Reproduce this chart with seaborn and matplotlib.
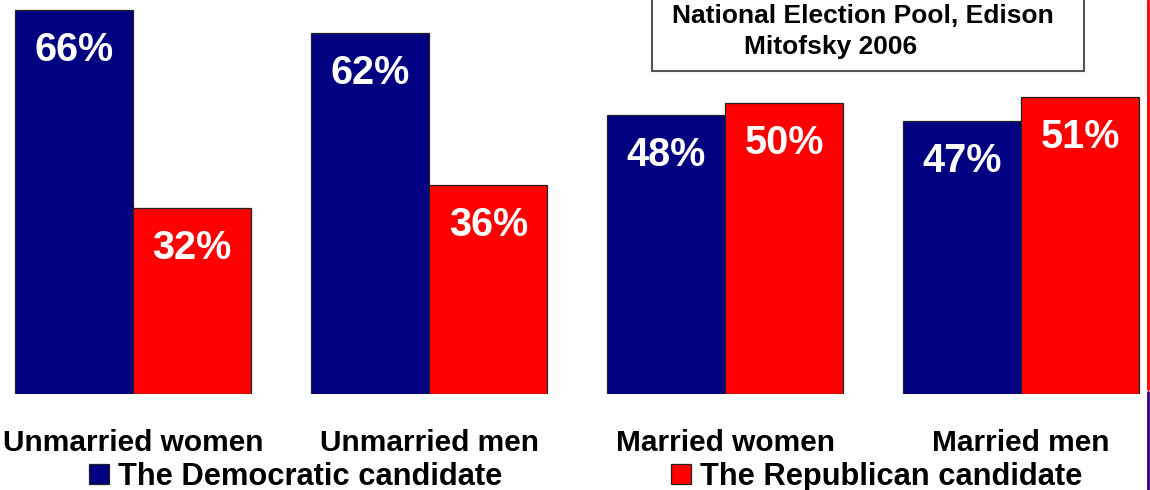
import pandas as pd
import matplotlib
matplotlib.use("Agg")
import matplotlib.pyplot as plt
import seaborn as sns
from matplotlib.lines import Line2D
from matplotlib.patches import Rectangle

# chart values
groups = ["Unmarried women", "Unmarried men", "Married women", "Married men"]
dem_share = [66, 62, 48, 47]
rep_share = [32, 36, 50, 51]
series = ["The Democratic candidate", "The Republican candidate"]
source_lines = ["National Election Pool, Edison", "Mitofsky 2006"]

df = pd.DataFrame({
    "group": groups * 2,
    "share": dem_share + rep_share,
    "party": [series[0]] * len(groups) + [series[1]] * len(groups),
})

sns.set_style("white")
plt.rcParams["font.family"] = ["Liberation Sans", "DejaVu Sans"]
plt.rcParams["font.weight"] = "bold"
plt.rcParams["text.color"] = "black"
plt.rcParams["xtick.color"] = "black"
plt.rcParams["xtick.labelcolor"] = "black"

W, H = 1150, 490
fig = plt.figure(figsize=(W / 100, H / 100), dpi=100)
base = 394  # pixel row of the bar baseline, from the top
ax = fig.add_axes([0, (H - base) / H, 1, base / H])

sns.barplot(data=df, x="group", y="share", hue="party", order=groups,
            hue_order=series, palette=["#000080", "#FF0000"],
            edgecolor="#222222", linewidth=0.9, saturation=1, width=0.8, ax=ax)

# value labels inside the top of each bar
for cont in ax.containers:
    for bar in cont:
        v = bar.get_height()
        ax.annotate(f"{v:.0f}%", (bar.get_x() + bar.get_width() / 2, v),
                    xytext=(0, -40), textcoords="offset pixels",
                    ha="center", va="center", color="white",
                    fontsize=28.5, fontweight="bold")

px_per_cat = 296
ax.set_xlim(-133 / px_per_cat, (W - 133) / px_per_cat)
ax.set_ylim(0, base / 5.818)
ax.set_xlabel("")
ax.set_ylabel("")
ax.set_yticks([])
ax.tick_params(axis="x", length=0, pad=25, labelsize=21.5, labelcolor="black")
for t in ax.get_xticklabels():
    t.set_fontweight("bold")
sns.despine(ax=ax, left=True, bottom=True)
ax.patch.set_alpha(0)

# legend along the bottom
h, l = ax.get_legend_handles_labels()
ax.get_legend().remove()
leg = fig.legend(h, l, loc="center left", bbox_to_anchor=(89 / W, 1 - 477 / H),
                 ncol=2, frameon=False, handlelength=0.65,
                 handleheight=0.65, handletextpad=0.3, columnspacing=5.45,
                 borderpad=0, borderaxespad=0, prop={"weight": "bold", "size": 22.2})
for t in leg.get_texts():
    t.set_color("black")

# source box at the top
fig.add_artist(Rectangle((652 / W, 1 - 71 / H), 432 / W, 80 / H,
                         transform=fig.transFigure, facecolor="white",
                         edgecolor="#555555", linewidth=1.5))
fig.text(863 / W, 1 - 16 / H, source_lines[0], ha="center", va="center",
         fontsize=19, fontweight="bold", color="black")
fig.text(831 / W, 1 - 47 / H, source_lines[1], ha="center", va="center",
         fontsize=19, fontweight="bold", color="black")

# thin slide edge lines on the right
fig.add_artist(Line2D([1148 / W, 1148 / W], [1, 1 - 389 / H], color="#FF0000",
                      linewidth=2, transform=fig.transFigure))
fig.add_artist(Line2D([1148 / W, 1148 / W], [1 - 392 / H, 0], color="#330080",
                      linewidth=2, transform=fig.transFigure))

fig.savefig("out.png", dpi=100)
